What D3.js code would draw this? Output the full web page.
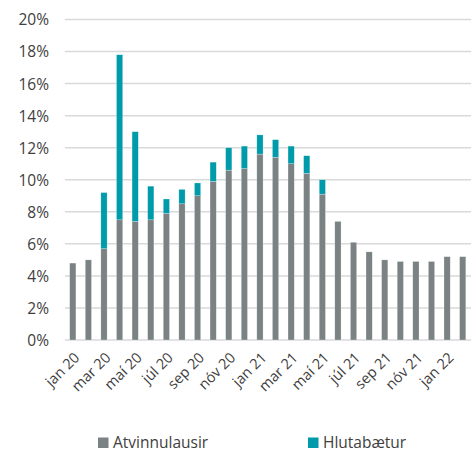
<!DOCTYPE html>
<html lang="is">
<head>
<meta charset="utf-8">
<style>
  body { margin: 0; background: #fff; }
  svg text { font-family: "Open Sans", "Noto Sans", sans-serif; fill: #404040; }
</style>
</head>
<body>
<div id="chart"></div>
<script src="https://cdnjs.cloudflare.com/ajax/libs/d3/7.8.5/d3.min.js"></script>
<script>
  var WIDTH = 471;
  var HEIGHT = 453;

  // months jan 20 - feb 22
  var months = ['jan 20', 'feb 20', 'mar 20', 'apr 20', 'maí 20', 'jún 20', 'júl 20', 'ágú 20', 'sep 20', 'okt 20',
    'nóv 20', 'des 20', 'jan 21', 'feb 21', 'mar 21', 'apr 21', 'maí 21', 'jún 21', 'júl 21', 'ágú 21',
    'sep 21', 'okt 21', 'nóv 21', 'des 21', 'jan 22', 'feb 22'];
  // percent
  var atvinnulausir = [4.8, 5.0, 5.7, 7.5, 7.4, 7.5, 7.9, 8.5, 9.0, 9.9,
    10.6, 10.7, 11.6, 11.4, 11.0, 10.4, 9.1, 7.4, 6.1, 5.5,
    5.0, 4.9, 4.9, 4.9, 5.2, 5.2];
  var hlutabaetur = [0, 0, 3.5, 10.3, 5.6, 2.1, 0.9, 0.9, 0.8, 1.2,
    1.4, 1.4, 1.2, 1.1, 1.1, 1.1, 0.9, 0, 0, 0,
    0, 0, 0, 0, 0, 0];
  var yTicks = [0, 2, 4, 6, 8, 10, 12, 14, 16, 18, 20];
  var seriesNames = ['Atvinnulausir', 'Hlutabætur'];
  var colors = ['#7a8284', '#009bab'];

  var margin = { top: 19.5, right: 0, bottom: 113, left: 65 };

  var svg = d3.select('#chart').append('svg').attr('width', WIDTH).attr('height', HEIGHT);

  var x = d3.scaleBand().domain(months).range([margin.left, WIDTH - 0.5]).paddingInner(0.6).paddingOuter(0.3);
  var y = d3.scaleLinear().domain([0, 20]).range([HEIGHT - margin.bottom, margin.top]);

  // gridlines
  svg.append('g').selectAll('line').data(yTicks).join('line')
    .attr('x1', margin.left).attr('x2', WIDTH)
    .attr('y1', d => y(d)).attr('y2', d => y(d))
    .attr('stroke', '#d9d9d9').attr('stroke-width', 1.5);

  // y axis labels
  var yAxis = svg.append('g').attr('transform', 'translate(' + (margin.left - 16) + ',0)')
    .call(d3.axisLeft(y).tickValues(yTicks).tickFormat(d => d + '%').tickSize(0).tickPadding(0));
  yAxis.select('.domain').remove();
  yAxis.selectAll('text').style('font-size', '15.5px').attr('dy', '0.35em');

  // stacked bars
  var rows = months.map((m, i) => ({ month: m, Atvinnulausir: atvinnulausir[i], 'Hlutabætur': hlutabaetur[i] }));
  var stacked = d3.stack().keys(seriesNames)(rows);

  svg.append('g').selectAll('g').data(stacked).join('g')
    .attr('fill', (d, i) => colors[i])
    .selectAll('rect').data(d => d.filter(p => p[1] > p[0])).join('rect')
    .attr('x', d => x(d.data.month))
    .attr('width', x.bandwidth())
    .attr('y', d => y(d[1]))
    .attr('height', d => y(d[0]) - y(d[1]))
    .attr('stroke', '#ffffff').attr('stroke-opacity', 0.5).attr('stroke-width', 0.5);

  // x axis labels, every other month
  var xAxis = svg.append('g').attr('transform', 'translate(0,' + y(0) + ')')
    .call(d3.axisBottom(x).tickValues(months.filter((m, i) => i % 2 === 0)).tickSize(0).tickPadding(0));
  xAxis.select('.domain').remove();
  xAxis.selectAll('text')
    .style('font-size', '14.5px')
    .attr('text-anchor', 'end')
    .attr('dy', '0.35em')
    .attr('transform', d => 'translate(4,15) rotate(-45)');

  // legend
  var legendX = [98, 308];
  var legend = svg.append('g').selectAll('g').data(seriesNames).join('g')
    .attr('transform', (d, i) => 'translate(' + legendX[i] + ',437.5)');
  legend.append('rect').attr('width', 10.5).attr('height', 10.5).attr('fill', (d, i) => colors[i]);
  legend.append('text').attr('x', 15).attr('y', 10.5).style('font-size', '15.5px').text(d => d);
</script>
</body>
</html>
